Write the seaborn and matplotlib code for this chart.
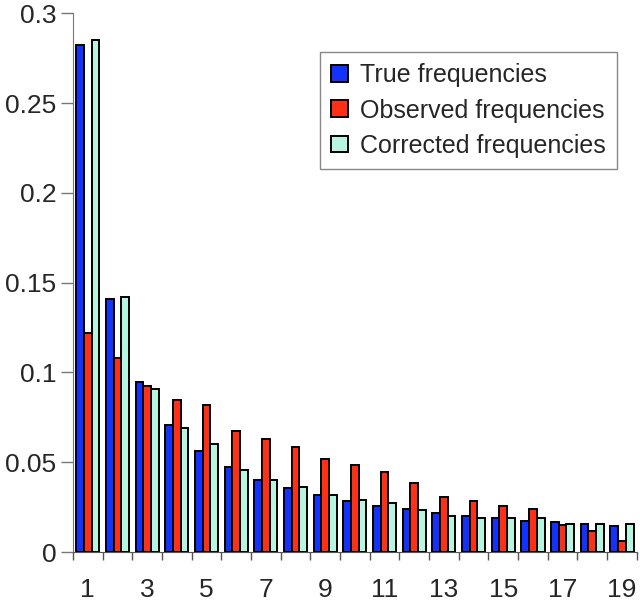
import numpy as np
import pandas as pd
import matplotlib
matplotlib.use("Agg")
import matplotlib.pyplot as plt
import seaborn as sns
from matplotlib.ticker import FormatStrFormatter

# values
sizes = [str(i) for i in range(1, 20)]
true_freq = [0.2825, 0.141, 0.0946, 0.0708, 0.0564, 0.0471, 0.0401, 0.0354, 0.0317, 0.0284,
             0.0254, 0.0238, 0.0219, 0.0200, 0.0191, 0.0174, 0.0165, 0.0156, 0.0146]
observed_freq = [0.1217, 0.1078, 0.0925, 0.0846, 0.0818, 0.0672, 0.0629, 0.0583, 0.0518, 0.0483,
                 0.0445, 0.0382, 0.0308, 0.0282, 0.0254, 0.0238, 0.0152, 0.0119, 0.0061]
corrected_freq = [0.2849, 0.142, 0.0909, 0.0692, 0.0601, 0.0455, 0.0401, 0.0363, 0.0317, 0.0291,
                  0.0274, 0.0236, 0.0200, 0.0191, 0.0191, 0.0191, 0.0156, 0.0156, 0.0156]
series_names = ["True frequencies", "Observed frequencies", "Corrected frequencies"]
colors = ["#1432FF", "#FF3015", "#B8F5E0"]

df = pd.DataFrame({"size": sizes * 3,
                   "freq": true_freq + observed_freq + corrected_freq,
                   "series": [series_names[0]] * 19 + [series_names[1]] * 19 + [series_names[2]] * 19})

sns.set_style("white")
plt.rcParams["font.family"] = ["Liberation Sans", "DejaVu Sans"]

fig = plt.figure(figsize=(6.4, 6.02), dpi=100)
ax = fig.add_axes([0.114, 0.083, 0.881, 0.895])

sns.barplot(data=df, x="size", y="freq", hue="series", order=sizes, hue_order=series_names,
            palette=colors, width=0.78, gap=0, edgecolor="black", linewidth=1.4,
            saturation=1, ax=ax)

ax.set_xlim(-0.5, 18.5)
ax.set_ylim(0, 0.3)
ax.set_yticks(np.arange(0, 0.301, 0.05))
ax.yaxis.set_major_formatter(FormatStrFormatter("%g"))
ax.set_xticks(range(0, 19, 2))
ax.set_xticklabels(sizes[::2])
ax.set_xticks(np.arange(-0.5, 19, 1), minor=True)
ax.tick_params(axis="x", which="major", length=0, pad=19, labelsize=19)
ax.tick_params(axis="x", which="minor", length=6, width=1, color="#555555", direction="out", bottom=True)
ax.tick_params(axis="y", length=9, width=1, color="#777777", direction="out", left=True, labelsize=19, pad=3)
ax.set_xlabel("")
ax.set_ylabel("")

for s in ["top", "right"]:
    ax.spines[s].set_visible(False)
ax.spines["left"].set_color("#777777")
ax.spines["bottom"].set_color("#555555")

leg = ax.legend(loc="upper right", bbox_to_anchor=(0.965, 0.928), borderaxespad=0,
                fontsize=18, handlelength=0.65, handleheight=0.65, handletextpad=0.5,
                labelspacing=0.45, fancybox=False, framealpha=1, borderpad=0.45)
leg.get_frame().set_edgecolor("#888888")
leg.get_frame().set_linewidth(1)

fig.savefig("out.png", dpi=100)
